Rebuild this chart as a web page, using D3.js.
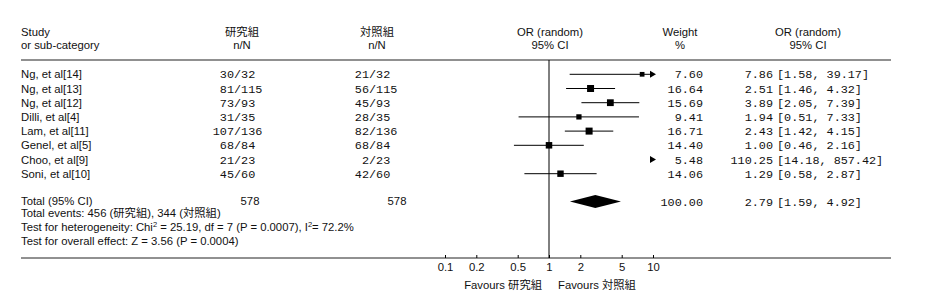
<!DOCTYPE html>
<html>
<head>
<meta charset="utf-8">
<script src="https://cdn.jsdelivr.net/npm/d3@7"></script>
<style>
  body { margin: 0; background: #fff; }
  svg text { fill: #111; }
  .sans { font-family: "Liberation Sans", Arial, "Noto Sans CJK JP", sans-serif; font-size: 11.3px; }
  .mono { font-family: "Liberation Mono", "Courier New", monospace; font-size: 11.8px; }
</style>
</head>
<body>
<svg id="chart" width="933" height="306"></svg>
<script>
// study rows
const studies = ["Ng, et al[14]", "Ng, et al[13]", "Ng, et al[12]", "Dilli, et al[4]",
    "Lam, et al[11]", "Genel, et al[5]", "Choo, et al[9]", "Soni, et al[10]"];
const treatEvents = [30, 81, 73, 31, 107, 68, 21, 45];
const treatTotal = [32, 115, 93, 35, 136, 84, 23, 60];
const ctrlEvents = [21, 56, 45, 28, 82, 68, 2, 42];
const ctrlTotal = [32, 115, 93, 35, 136, 84, 23, 60];
const weights = [7.60, 16.64, 15.69, 9.41, 16.71, 14.40, 5.48, 14.06];
const orValues = [7.86, 2.51, 3.89, 1.94, 2.43, 1.00, 110.25, 1.29];
const ciLow = [1.58, 1.46, 2.05, 0.51, 1.42, 0.46, 14.18, 0.58];
const ciHigh = [39.17, 4.32, 7.39, 7.33, 4.15, 2.16, 857.42, 2.87];

// pooled result
const pooled = { or: 2.79, lo: 1.59, hi: 4.92, weight: 100.00 };
const totalN = [578, 578];
const tickValues = [0.1, 0.2, 0.5, 1, 2, 5, 10];

const svg = d3.select("#chart");

// log scale for OR
let x = d3.scaleLog().domain([0.1, 10]).range([445, 653]);
let y = d3.scalePoint().domain(d3.range(studies.length)).range([74.3, 173.7]);
let side = d3.scaleSqrt().domain([0, 16.71]).range([0, 7]);

const xMin = x.range()[0], xMax = x.range()[1];
const clip = v => Math.max(xMin, Math.min(xMax, x(v)));

// header
function header(xp, l1, l2, anchor) {
    svg.append("text").attr("class", "sans").attr("x", xp).attr("y", 36)
        .attr("text-anchor", anchor).text(l1);
    svg.append("text").attr("class", "sans").attr("x", xp).attr("y", 49)
        .attr("text-anchor", anchor).text(l2);
}
header(21, "Study", "or sub-category", "start");
header(242, "研究組", "n/N", "middle");
header(377, "対照組", "n/N", "middle");
header(550, "OR (random)", "95% CI", "middle");
header(680, "Weight", "%", "middle");
header(808, "OR (random)", "95% CI", "middle");

svg.append("line").attr("x1", 21).attr("x2", 891).attr("y1", 60).attr("y2", 60)
    .attr("stroke", "#222").attr("stroke-width", 1.2);
svg.append("line").attr("x1", 21).attr("x2", 891).attr("y1", 258).attr("y2", 258)
    .attr("stroke", "#222").attr("stroke-width", 1);

// line of no effect
svg.append("line").attr("x1", x(1)).attr("x2", x(1)).attr("y1", 60).attr("y2", 258)
    .attr("stroke", "#000").attr("stroke-width", 1);

// each row is bound to its study index
let rows = svg.selectAll("g.row").data(d3.range(studies.length)).enter().append("g")
    .attr("class", "row")
    .attr("transform", d => "translate(0," + y(d) + ")");

rows.append("text").attr("class", "sans").attr("x", 21).attr("y", 4).text(d => studies[d]);

// n/N columns aligned on the slash
function fraction(xSlash, ev, tot) {
    rows.append("text").attr("class", "mono").attr("x", xSlash).attr("y", 4)
        .attr("text-anchor", "end").text(d => ev[d]);
    rows.append("text").attr("class", "mono").attr("x", xSlash).attr("y", 4)
        .text(d => "/" + tot[d]);
}
fraction(234, treatEvents, treatTotal);
fraction(369, ctrlEvents, ctrlTotal);

// CI lines
rows.filter(d => ciLow[d] < 10)
    .append("line")
    .attr("x1", d => clip(ciLow[d]))
    .attr("x2", d => clip(ciHigh[d]))
    .attr("stroke", "#000").attr("stroke-width", 1);

// squares
rows.filter(d => orValues[d] <= 10)
    .append("rect")
    .attr("x", d => x(orValues[d]) - side(weights[d]) / 2)
    .attr("y", d => -side(weights[d]) / 2)
    .attr("width", d => side(weights[d]))
    .attr("height", d => side(weights[d]))
    .attr("fill", "#000");

// arrows where CI leaves the axis
rows.filter(d => ciHigh[d] > 10)
    .append("path")
    .attr("d", "M" + (xMax - 3) + ",-3.5L" + (xMax + 3) + ",0L" + (xMax - 3) + ",3.5Z")
    .attr("fill", "#000");

rows.append("text").attr("class", "mono").attr("x", 703).attr("y", 4)
    .attr("text-anchor", "end").text(d => weights[d].toFixed(2));
rows.append("text").attr("class", "mono").attr("x", 773).attr("y", 4)
    .attr("text-anchor", "end").text(d => orValues[d].toFixed(2));
rows.append("text").attr("class", "mono").attr("x", 777).attr("y", 4)
    .text(d => "[" + ciLow[d].toFixed(2) + ", " + ciHigh[d].toFixed(2) + "]");

// total row
const yTot = 201.5;
svg.append("text").attr("class", "sans").attr("x", 21).attr("y", yTot + 3).text("Total (95% CI)");
svg.append("text").attr("class", "sans").attr("x", 250).attr("y", yTot + 3)
    .attr("text-anchor", "middle").text(totalN[0]);
svg.append("text").attr("class", "sans").attr("x", 397).attr("y", yTot + 3)
    .attr("text-anchor", "middle").text(totalN[1]);
svg.append("path")
    .attr("d", "M" + x(pooled.lo) + "," + yTot + "L" + x(pooled.or) + "," + (yTot - 6.5) +
        "L" + x(pooled.hi) + "," + yTot + "L" + x(pooled.or) + "," + (yTot + 6.5) + "Z")
    .attr("fill", "#000");
svg.append("text").attr("class", "mono").attr("x", 703).attr("y", yTot + 4)
    .attr("text-anchor", "end").text(pooled.weight.toFixed(2));
svg.append("text").attr("class", "mono").attr("x", 773).attr("y", yTot + 4)
    .attr("text-anchor", "end").text(pooled.or.toFixed(2));
svg.append("text").attr("class", "mono").attr("x", 777).attr("y", yTot + 4)
    .text("[" + pooled.lo.toFixed(2) + ", " + pooled.hi.toFixed(2) + "]");

svg.append("text").attr("class", "sans").attr("x", 21).attr("y", 217)
    .text("Total events: " + d3.sum(treatEvents) + " (研究組), " + d3.sum(ctrlEvents) + " (対照組)");
let het = svg.append("text").attr("class", "sans").attr("x", 21).attr("y", 231);
het.append("tspan").text("Test for heterogeneity: Chi");
het.append("tspan").attr("dy", -4).attr("font-size", "7.5px").text("2");
het.append("tspan").attr("dy", 4).text(" = 25.19, df = 7 (P = 0.0007), I");
het.append("tspan").attr("dy", -4).attr("font-size", "7.5px").text("2");
het.append("tspan").attr("dy", 4).text("= 72.2%");
svg.append("text").attr("class", "sans").attr("x", 21).attr("y", 245)
    .text("Test for overall effect: Z = 3.56 (P = 0.0004)");

// axis
let axis = d3.axisTop(x).tickValues(tickValues).tickSize(3).tickFormat(d3.format("~g"));
let ga = svg.append("g").attr("transform", "translate(0,258)").call(axis);
ga.select(".domain").remove();
ga.attr("font-family", null).attr("font-size", null);
ga.selectAll(".tick line").attr("stroke", "#000");
ga.selectAll(".tick text").attr("class", "sans").attr("y", 13).attr("dy", 0).attr("fill", "#111");

svg.append("text").attr("class", "sans").attr("x", 542).attr("y", 289)
    .attr("text-anchor", "end").text("Favours 研究組");
svg.append("text").attr("class", "sans").attr("x", 558).attr("y", 289)
    .text("Favours 対照組");
</script>
</body>
</html>
